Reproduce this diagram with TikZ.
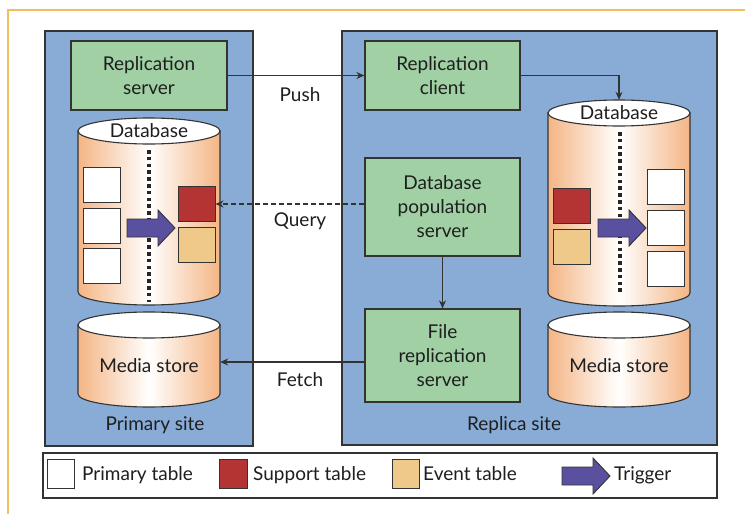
\documentclass[tikz,border=0pt]{standalone}
\usepackage{fontspec}
\setmainfont{Lato}
\usetikzlibrary{arrows.meta}
\definecolor{siteblue}{HTML}{89ACD6}
\definecolor{boxgreen}{HTML}{A0D0A4}
\definecolor{supred}{HTML}{B43434}
\definecolor{evtan}{HTML}{EEC98A}
\definecolor{trigpurple}{HTML}{5A50A0}
\definecolor{cylo}{HTML}{F4B584}
\definecolor{frameor}{HTML}{F0C060}
\definecolor{lineC}{HTML}{333333}
\definecolor{txtC}{HTML}{1E1E1E}
\pgfdeclarehorizontalshading{cylshade}{100bp}{color(0bp)=(cylo); color(25bp)=(cylo); color(50bp)=(white); color(75bp)=(cylo); color(100bp)=(cylo)}
\tikzset{
  lbl/.style={font=\fontsize{19}{24}\selectfont, text=txtC, inner sep=0},
  site/.style={draw=lineC, fill=siteblue, line width=1.2pt, inner sep=0},
  srv/.style={draw=lineC, fill=boxgreen, line width=1.2pt, inner sep=0, align=center,
    font=\fontsize{19}{24}\selectfont, text=txtC},
  tbl/.style={draw=lineC, line width=1pt, inner sep=0, minimum width=37pt, minimum height=35pt},
  ptab/.style={tbl, fill=white},
  stab/.style={tbl, fill=supred},
  etab/.style={tbl, fill=evtan},
  cylbody/.style={draw=lineC, line width=1.1pt, shade, shading=cylshade},
  cyltop/.style={draw=lineC, line width=1.1pt, fill=white},
  dotline/.style={line width=3.6pt, dash pattern=on 3.6pt off 3.2pt, draw=black!85},
  conn/.style={draw=lineC, line width=1.1pt, -{Stealth[length=8pt,width=7pt]}},
  trig/.style={draw=lineC, line width=0.9pt, fill=trigpurple},
  anchorbox/.style={inner sep=0, minimum width=142pt},
}
\newcommand\drawcyl[3]{%
  \path[cylbody] (#1-71,#2) -- (#1-71,#3) arc[start angle=180,end angle=0,x radius=71,y radius=13] -- (#1+71,#2) -- cycle;
  \path[cyltop] (#1,#2) ellipse[x radius=71, y radius=13];
}
\newcommand\drawtrig[2]{%
  \path[trig] (#1,#2-9) -- (#1+31,#2-9) -- (#1+31,#2-18) -- (#1+48,#2) -- (#1+31,#2+18) -- (#1+31,#2+9) -- (#1,#2+9) -- cycle;
}
\begin{document}
\begin{tikzpicture}[x=1pt,y=-1pt]
\useasboundingbox (0,0) rectangle (745,514);
\fill[white] (0,0) rectangle (745,514);
% outer orange frame
\draw[frameor, line width=1.4pt] (8,514) -- (8,10) -- (745,10);

% sites
\node[site, minimum width=208pt, minimum height=415pt] (psite) at (149,238.5) {};
\node[site, minimum width=375pt, minimum height=414pt] (rsite) at (529.5,238) {};
\node[lbl] (pslbl) at (155,425) {Primary site};
\node[lbl] (rslbl) at (514,425) {Replica site};

% servers
\node[srv, minimum width=156pt, minimum height=69pt] (rs) at (149,75.5) {Replication\\server};
\node[srv, minimum width=155pt, minimum height=69pt] (rc) at (442.5,75.5) {Replication\\client};
\node[srv, minimum width=155pt, minimum height=98pt] (dps) at (442.5,207) {Database\\population\\server};
\node[srv, minimum width=155pt, minimum height=93pt] (frs) at (442.5,355.5) {File\\replication\\server};

% primary database
\drawcyl{149}{131}{292}
\node[anchorbox, minimum height=187pt] (pdb) at (149,211.5) {};
\node[lbl] (pdblbl) at (149,131) {Database};
\draw[dotline] (149,150) -- (149,302);
\node[ptab] (pw1) at (101.5,185) {};
\node[ptab] (pw2) at (101.5,225.5) {};
\node[ptab] (pw3) at (101.5,265.5) {};
\node[stab] (psup) at (196.5,204) {};
\node[etab] (pevt) at (196.5,245) {};
\drawtrig{127}{228}

% replica database
\drawcyl{619}{113}{293}
\node[anchorbox, minimum height=206pt] (rdb) at (619,203) {};
\node[lbl] (rdblbl) at (619,113) {Database};
\draw[dotline] (620,132) -- (620,295);
\node[stab] (rsup) at (571.5,206) {};
\node[etab] (revt) at (571.5,246.5) {};
\node[ptab] (rw1) at (666,186.5) {};
\node[ptab] (rw2) at (666,227.5) {};
\node[ptab] (rw3) at (666,268.5) {};
\drawtrig{598}{228}

% media stores
\drawcyl{149}{325}{394}
\node[anchorbox] (pms) at (149,362) {};
\node[lbl] (pmslbl) at (149,366) {Media store};
\drawcyl{619}{325}{394}
\node[anchorbox] (rms) at (619,362) {};
\node[lbl] (rmslbl) at (619,366) {Media store};

% connectors
\draw[conn] (rs.east) -- (rc.west);
\node[lbl] (push) at (300,95) {Push};
\draw[conn] (rc.east) -| (rdb.north);
\draw[conn, dash pattern=on 5pt off 3pt] (dps.west |- psup.east) -- (psup.east);
\node[lbl] (query) at (300,221) {Query};
\draw[conn] (dps.south) -- (frs.north);
\draw[conn] (frs.west |- pms.east) -- (pms.east);
\node[lbl] (fetch) at (300,380) {Fetch};

% legend
\node[draw=lineC, fill=white, line width=1.1pt, minimum width=674pt, minimum height=45pt, inner sep=0] (legend) at (380,475.5) {};
\node[tbl, fill=white, minimum width=27pt, minimum height=29pt] (lgw) at (60.5,473.5) {};
\node[lbl, anchor=base west] (lgwt) at (82,480) {Primary table};
\node[tbl, fill=supred, minimum width=28pt, minimum height=29pt] (lgr) at (233,473.5) {};
\node[lbl, anchor=base west] (lgrt) at (253,480) {Support table};
\node[tbl, fill=evtan, minimum width=27pt, minimum height=29pt] (lgt) at (405.5,473.5) {};
\node[lbl, anchor=base west] (lgtt) at (423,480) {Event table};
\drawtrig{562}{476}
\node[lbl, anchor=base west] (lgpt) at (614,480) {Trigger};
\end{tikzpicture}
\end{document}
